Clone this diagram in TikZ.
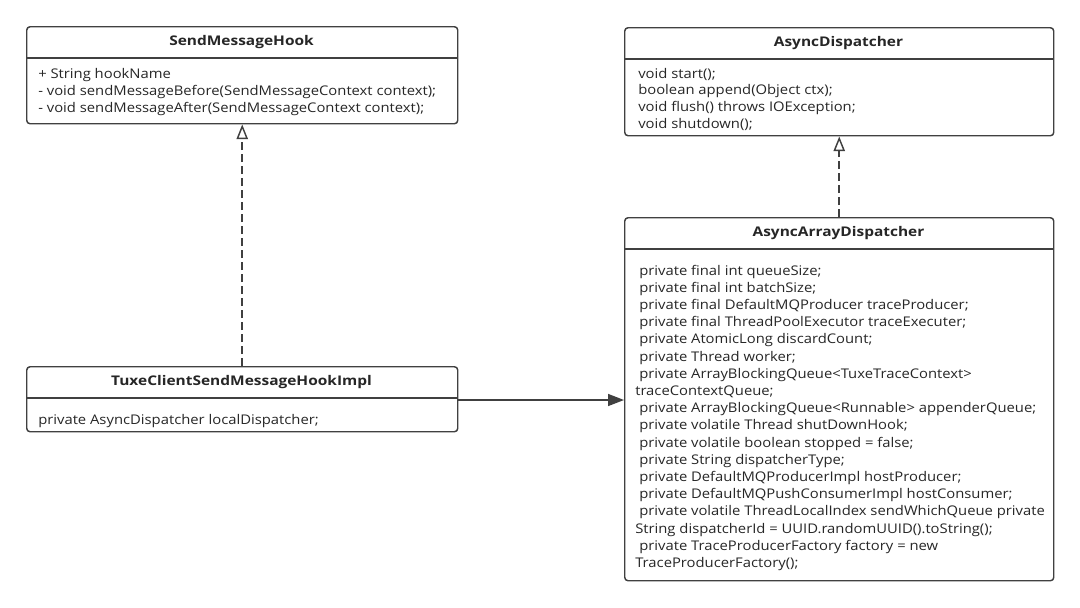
\documentclass[tikz,border=0pt]{standalone}
\usepackage{fontspec}
\setmainfont{Open Sans}[FakeStretch=1.11, BoldFeatures={FakeStretch=1.16}]
\usetikzlibrary{arrows.meta}
\definecolor{ln}{HTML}{404040}
\definecolor{tx}{HTML}{262626}
\newcommand\ind{\hspace*{3pt}}
\begin{document}
\begin{tikzpicture}[x=0.75pt,y=-0.75pt,
  box/.style={draw=ln, line width=1.1pt, rounded corners=2.5pt, anchor=north west, inner sep=0pt, minimum width=#1},
  box/.default=323.25pt,
  sepline/.style={draw=ln, line width=1.1pt},
  title/.style={font=\fontsize{10}{12}\selectfont\bfseries, text=tx, inner sep=0pt},
  txt/.style={font=\fontsize{10}{12}\selectfont, text=tx, inner sep=0pt, anchor=base west},
  realize/.style={draw=ln, line width=1.5pt, dash pattern=on 6pt off 3pt, -{Triangle[open, length=11pt, width=8.5pt, line width=1.1pt]}},
  assoc/.style={draw=ln, line width=1.1pt, -{Triangle[length=12pt, width=9pt]}}]
\fill[white] (0,0) rectangle (1080,607);
\useasboundingbox (0,0) rectangle (1080,607);

% boxes
\node[box, minimum height=72.75pt] (smh) at (26,26) {};
\node[box=321.75pt, minimum height=81pt] (ad) at (624,27) {};
\node[box=321.75pt, minimum height=272.25pt] (aad) at (624,217) {};
\node[box, minimum height=48.75pt] (tux) at (26,366) {};

\draw[sepline] (smh.west |- 0,58) -- (smh.east |- 0,58);
\draw[sepline] (ad.west |- 0,59) -- (ad.east |- 0,59);
\draw[sepline] (aad.west |- 0,249) -- (aad.east |- 0,249);
\draw[sepline] (tux.west |- 0,398) -- (tux.east |- 0,398);

% titles
\node[title] (smhT) at (241.5,42) {SendMessageHook};
\node[title] (adT) at (838.5,43) {AsyncDispatcher};
\node[title] (aadT) at (838.5,233) {AsyncArrayDispatcher};
\node[title] (tuxT) at (241.5,382) {TuxeClientSendMessageHookImpl};

% SendMessageHook members
\node[txt] (smh1) at (38,78.5) {+ String hookName};
\node[txt] (smh2) at (38,95.5) {- void sendMessageBefore(SendMessageContext context);};
\node[txt] (smh3) at (38,112.5) {- void sendMessageAfter(SendMessageContext context);};

% AsyncDispatcher members
\node[txt] (ad1) at (638,78) {void start();};
\node[txt] (ad2) at (638,94.8) {boolean append(Object ctx);};
\node[txt] (ad3) at (638,111.6) {void flush() throws IOException;};
\node[txt] (ad4) at (638,128.4) {void shutdown();};

% TuxeClientSendMessageHookImpl members
\node[txt] (tux1) at (38,424.5) {private AsyncDispatcher localDispatcher;};

% AsyncArrayDispatcher members
\foreach \t [count=\i] in {
  {\ind private final int queueSize;},
  {\ind private final int batchSize;},
  {\ind private final DefaultMQProducer traceProducer;},
  {\ind private final ThreadPoolExecutor traceExecuter;},
  {\ind private AtomicLong discardCount;},
  {\ind private Thread worker;},
  {\ind private ArrayBlockingQueue<TuxeTraceContext>},
  {traceContextQueue;},
  {\ind private ArrayBlockingQueue<Runnable> appenderQueue;},
  {\ind private volatile Thread shutDownHook;},
  {\ind private volatile boolean stopped = false;},
  {\ind private String dispatcherType;},
  {\ind private DefaultMQProducerImpl hostProducer;},
  {\ind private DefaultMQPushConsumerImpl hostConsumer;},
  {\ind private volatile ThreadLocalIndex sendWhichQueue private},
  {String dispatcherId = UUID.randomUUID().toString();},
  {\ind private TraceProducerFactory factory = new},
  {TraceProducerFactory();}}
  \node[txt] (aad\i) at (635,{275+17.2*(\i-1)}) {\t};

% connectors
\draw[realize] (tux.north) -- (smh.south);
\draw[realize] (aad.north) -- (ad.south);
\draw[assoc] (tux.east |- 0,400) -- (aad.west |- 0,400);
\end{tikzpicture}
\end{document}
